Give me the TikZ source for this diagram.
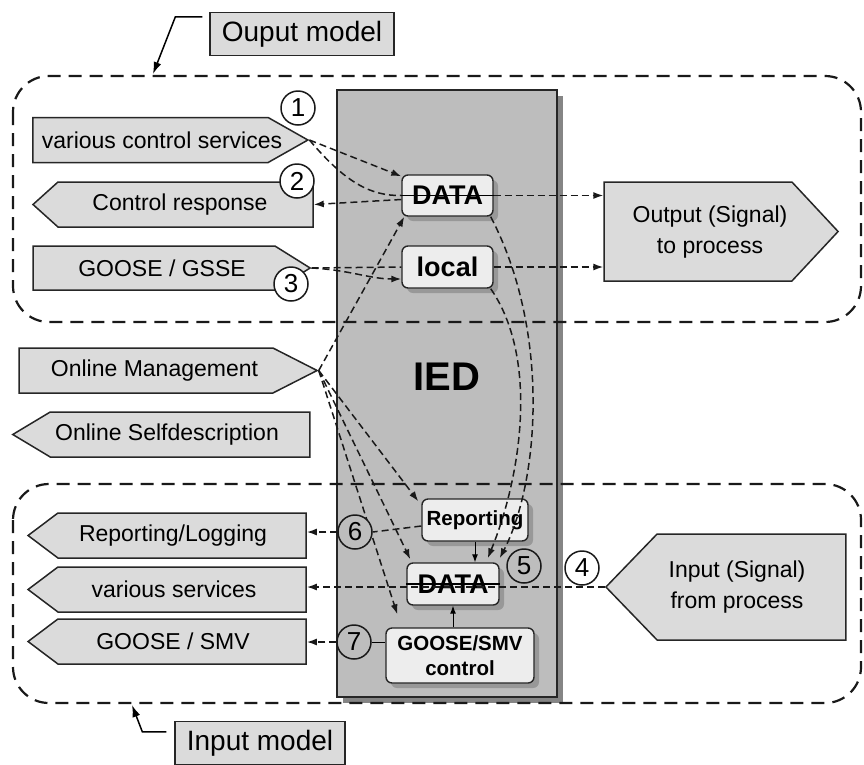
\documentclass[tikz,border=0pt]{standalone}
\usepackage{fontspec}
\setmainfont{Liberation Sans}
\usetikzlibrary{shapes.symbols,arrows.meta,shadows}

\definecolor{iedgray}{gray}{0.74}
\definecolor{iedshadow}{gray}{0.52}
\definecolor{sigfill}{gray}{0.86}
\definecolor{boxfill}{gray}{0.93}

% text of a signal, moved sideways by half of #1
\newcommand{\sigtext}[2]{\makebox[0pt]{\hspace*{#1}#2}}

\begin{document}
\begin{tikzpicture}
    [x=1pt, y=-1pt,
    sig/.style={signal, signal from=nowhere, draw=black!85, line width=1.5pt, fill=sigfill, inner sep=0pt, font=\fontsize{23}{31}\selectfont, align=center},
    sigr/.style={sig, signal to=east},
    sigl/.style={sig, signal to=west},
    inbox/.style={draw=black!85, line width=1.4pt, rounded corners=6pt, fill=boxfill, inner sep=0pt,
        drop shadow={shadow xshift=5pt, shadow yshift=-5pt, fill=black!50, opacity=0.6}},
    num/.style={circle, draw=black!90, line width=1.5pt, minimum size=34pt, inner sep=0pt, fill=white, font=\fontsize{26}{26}\selectfont},
    flow/.style={draw=black!90, line width=1.5pt, dash pattern=on 7pt off 4pt},
    tip/.style={-{Latex[length=10pt,width=7pt]}},
    model/.style={draw=black!90, line width=2.2pt, dash pattern=on 13pt off 8pt, rounded corners=36pt},
    modlabel/.style={draw=black!85, line width=1.3pt, fill=sigfill, minimum height=43pt, inner sep=6pt, font=\fontsize{28}{28}\selectfont}]

    \useasboundingbox (0,0) rectangle (864,764);

    % IED block with its shadow
    \fill[iedshadow] (343,96) rectangle (563,703);
    \node[draw=black!85, line width=1.2pt, fill=iedgray, minimum width=220pt, minimum height=607pt, inner sep=0pt] (ied) at (447,393.5) {};
    \node[font=\bfseries\fontsize{40}{40}\selectfont] (iedtext) at (447,377) {IED};

    % dashed model frames
    \draw[model] (13,76) rectangle (861,322);
    \draw[model] (13,484) rectangle (861,703);

    % labels of the frames
    \node[modlabel, minimum width=184pt] (outlbl) at (302,34) {Ouput model};
    \node[modlabel, minimum width=170pt] (inlbl) at (260,743) {Input model};
    \coordinate (outtip) at (153,74);
    \coordinate (intip) at (132,705);
    \draw[line width=1.5pt, -{Latex[length=12pt,width=8pt]}] ([xshift=-7pt,yshift=-5pt]outlbl.north west) -- ++(-27,0) -- (outtip);
    \draw[line width=1.5pt, -{Latex[length=12pt,width=8pt]}] ([xshift=-8pt,yshift=-11pt]inlbl.north west) -- ++(-24,0) -- (intip);

    % services on the left
    \node[sigr, minimum width=275pt, minimum height=45pt, signal pointer angle=59] (vcs) at (150.5,140) {\sigtext{23pt}{various control services}};
    \node[sigl, minimum width=280pt, minimum height=45pt, signal pointer angle=84] (cr) at (185.5,204.5) {\sigtext{-11pt}{Control response}};
    \node[sigr, minimum width=277pt, minimum height=44pt, signal pointer angle=64] (gg) at (154,268) {\sigtext{16pt}{GOOSE / GSSE}};
    \node[sigr, minimum width=298pt, minimum height=45pt, signal pointer angle=54] (om) at (146,370.5) {\sigtext{17pt}{Online Management}};
    \node[sigl, minimum width=297pt, minimum height=45pt, signal pointer angle=62] (osd) at (180,434.5) {\sigtext{-26pt}{Online Selfdescription}};
    \node[sigl, minimum width=278pt, minimum height=45pt, signal pointer angle=74] (rl) at (182,535.5) {\sigtext{-18pt}{Reporting/Logging}};
    \node[sigl, minimum width=278pt, minimum height=45pt, signal pointer angle=74] (vs) at (182,589.5) {\sigtext{-16pt}{various services}};
    \node[sigl, minimum width=278pt, minimum height=45pt, signal pointer angle=74] (gs) at (182,641.5) {\sigtext{-18pt}{GOOSE / SMV}};

    % process side
    \node[sigr, minimum width=234pt, minimum height=99pt, signal pointer angle=94] (out) at (698,231.5)
        {\sigtext{24pt}{\begin{tabular}{@{}c@{}}Output (Signal)\\to process\end{tabular}}};
    \node[sigl, minimum width=240pt, minimum height=106pt, signal pointer angle=92] (in) at (751.5,587)
        {\sigtext{-29pt}{\begin{tabular}{@{}c@{}}Input (Signal)\\from process\end{tabular}}};

    % boxes inside the IED
    \node[inbox, minimum width=91pt, minimum height=41pt, font=\bfseries\fontsize{27}{27}\selectfont] (data1) at (447.5,195.5) {DATA};
    \node[inbox, minimum width=91pt, minimum height=42pt, font=\bfseries\fontsize{27}{27}\selectfont] (local) at (447.5,267) {local};
    \node[inbox, minimum width=106pt, minimum height=42pt, font=\bfseries\fontsize{20.5}{20.5}\selectfont] (rep) at (475,520) {Reporting};
    \node[inbox, minimum width=92pt, minimum height=42pt, font=\bfseries\fontsize{27}{27}\selectfont] (data2) at (453,584) {DATA};
    \node[inbox, minimum width=148pt, minimum height=55pt, align=center, font=\bfseries\fontsize{20.5}{25}\selectfont] (gsc) at (460,655.5) {GOOSE/SMV\\control};
    \draw[line width=1.2pt] (data1.west) -- (data1.east);
    \draw[line width=1.2pt] (data2.west) -- (data2.east);

    % output model flows
    \draw[flow, tip] (vcs.east) -- ([yshift=-2pt]data1.north west);
    \draw[flow] (vcs.east) .. controls (345,182) and (370,196) .. (data1.west);
    \draw[flow, tip] ([yshift=-4pt]data1.west) -- (cr.east);
    \draw[flow] (gg.east) -- (local.west);
    \draw[flow, tip] (gg.east) .. controls (350,270) and (370,279) .. ([yshift=-12pt]local.west);
    \draw[flow, tip] (data1.east) -- (data1.east -| out.west);
    \draw[flow, tip] (local.east) -- (local.east -| out.west);

    % online management flows
    \draw[flow, tip] (om.east) -- ([xshift=3pt]data1.south west);
    \draw[flow, tip] (om.east) -- ([shift={(-3pt,-3pt)}]rep.north west);
    \draw[flow, tip] (om.east) -- ([shift={(4pt,3pt)}]data2.north west);
    \draw[flow, tip] (om.east) -- ([shift={(12pt,13pt)}]gsc.north west);

    % input model flows
    \draw[flow, tip] ([xshift=-3pt]local.south east) .. controls (540,360) and (520,480) .. ([shift={(-12pt,4pt)}]data2.north east);
    \draw[flow, tip] ([xshift=-3pt]data1.south east) .. controls (550,330) and (540,480) .. ([yshift=4pt]data2.north east);
    \draw[flow, tip] (in.west) -- (in.west -| vs.east);
    \draw[line width=1pt, -{Latex[length=8pt,width=6pt]}] (rep.south) -- (rep.south |- data2.north);
    \draw[line width=1pt, -{Latex[length=8pt,width=6pt]}] (data2.south |- gsc.north) -- (data2.south);

    % numbered marks
    \node[num] (c1) at (298,108) {1};
    \node[num] (c2) at (297,181) {2};
    \node[num] (c3) at (291,284) {3};
    \node[num] (c4) at (582,568) {4};
    \node[num, fill=iedgray] (c5) at (524,566) {5};
    \node[num, fill=iedgray] (c6) at (355,532) {6};
    \node[num, fill=iedgray] (c7) at (354,642) {7};

    \draw[flow] ([yshift=-6pt]rep.west) -- (c6.east);
    \draw[flow, tip] (c6.west) -- (c6.west -| rl.east);
    \draw[line width=1pt] (c7.east) -- (c7.east -| gsc.west);
    \draw[flow, tip] (c7.west) -- (c7.west -| gs.east);

\end{tikzpicture}
\end{document}
